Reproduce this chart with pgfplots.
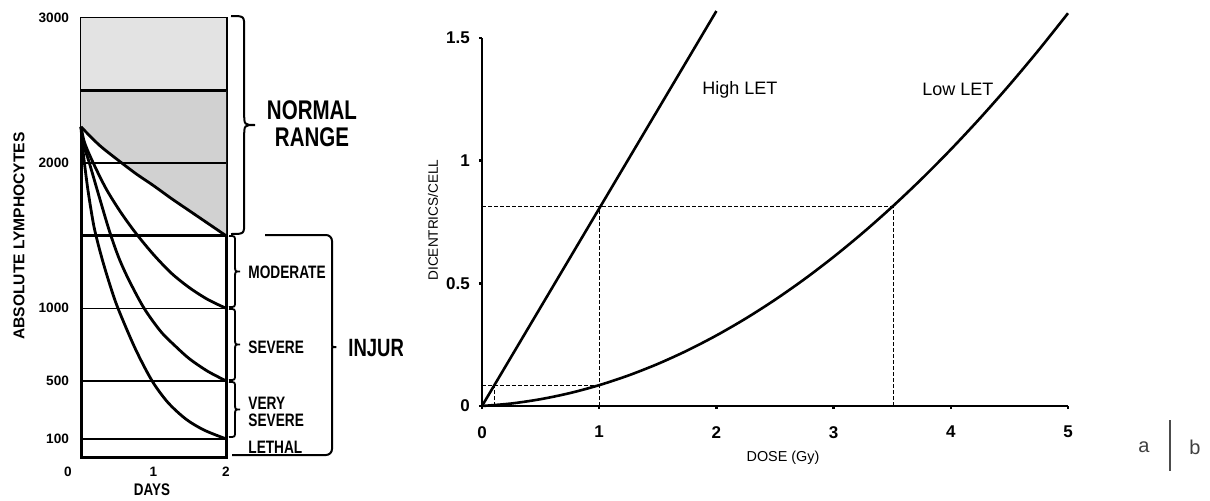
\documentclass[border=0pt]{standalone}
\usepackage{fontspec}
\setmainfont{Liberation Sans}
\usepackage{graphicx}
\usepackage{pgfplots}
\pgfplotsset{compat=1.18}

% narrow lettering for panel a
\newcommand{\cond}[2][0.78]{\scalebox{#1}[1]{#2}}

% right-pointing curly brace, pixel units: x, top, bottom, amplitude
\newcommand{\rbr}[5][0.9pt]{%
  \pgfmathsetmacro\bxm{#2+0.55*#5}%
  \pgfmathsetmacro\bxt{#2+#5}%
  \pgfmathsetmacro\bym{(#3+#4)/2}%
  \pgfmathsetmacro\byta{#3+0.5*#5}%
  \pgfmathsetmacro\bytb{\bym-0.5*#5}%
  \pgfmathsetmacro\byba{\bym+0.5*#5}%
  \pgfmathsetmacro\bybb{#4-0.5*#5}%
  \draw[line width=#1] (#2,#3) .. controls (\bxm,#3) .. (\bxm,\byta) -- (\bxm,\bytb)
    .. controls (\bxm,\bym) .. (\bxt,\bym) .. controls (\bxm,\bym) .. (\bxm,\byba)
    -- (\bxm,\bybb) .. controls (\bxm,#4) .. (#2,#4);
}

\begin{document}
\begin{tikzpicture}
\path[use as bounding box] (0,0) rectangle (605pt,250pt);

% ---------- panel a: lymphocytes ----------
\begin{axis}[
    at={(40.5pt,21.5pt)}, anchor=south west, scale only axis,
    width=72.5pt, height=219.5pt,
    xmin=0, xmax=2, ymin=-25, ymax=3000,
    axis line style={line width=1.5pt},
    xtick={1,2},
    extra x ticks={0},
    extra x tick style={xticklabel style={xshift=-6.5pt}},
    ytick={100,500,1000,2000,3000},
    major tick length=0pt,
    tick label style={font=\fontsize{6.8}{7}\selectfont\bfseries},
    xticklabel style={yshift=-1.5pt},
    yticklabel style={xshift=-2.5pt},
    /pgf/number format/assume math mode=true,
    /pgf/number format/1000 sep={},
    clip=false,
]
    \addplot[draw=none, fill=gray!22] coordinates {(0,2500)(2,2500)(2,3000)(0,3000)} -- cycle;
    \addplot[draw=none, fill=gray!36] coordinates {(0,2500)(0,2250)(0.25,2125)(0.5,2025)(0.75,1930)(1,1845)(1.25,1755)(1.5,1670)(1.75,1585)(2,1500)(2,2500)} -- cycle;

    \addplot[line width=1.6pt] coordinates {(0,2500)(2,2500)};
    \addplot[line width=1.2pt] coordinates {(0,2000)(2,2000)};
    \addplot[line width=1.3pt] coordinates {(0,1500)(2,1500)};
    \addplot[line width=0.7pt] coordinates {(0,1000)(2,1000)};
    \addplot[line width=0.7pt] coordinates {(0,500)(2,500)};
    \addplot[line width=0.9pt] coordinates {(0,100)(2,100)};

    \addplot[line width=1.4pt, smooth] coordinates {(0,2250)(0.25,2125)(0.5,2025)(0.75,1930)(1,1845)(1.25,1755)(1.5,1670)(1.75,1585)(2,1500)};
    \addplot[line width=1.4pt, smooth] coordinates {(0,2250)(0.05,2140)(0.17,2000)(0.35,1820)(0.55,1660)(0.76,1515)(1,1370)(1.25,1240)(1.5,1140)(1.75,1060)(2,1000)};
    \addplot[line width=1.4pt, smooth] coordinates {(0,2250)(0.04,2120)(0.11,2010)(0.25,1770)(0.39,1535)(0.52,1350)(0.66,1195)(0.87,1000)(1.1,840)(1.31,735)(1.5,650)(1.75,565)(2,500)};
    \addplot[line width=1.4pt, smooth] coordinates {(0,2250)(0.02,2120)(0.05,1990)(0.1,1800)(0.18,1560)(0.28,1360)(0.39,1175)(0.51,1000)(0.75,720)(0.98,500)(1.2,350)(1.45,235)(1.7,160)(2,100)};
\end{axis}

% ---------- panel b: dicentrics ----------
\begin{axis}[
    at={(241pt,47pt)}, anchor=south west, scale only axis,
    width=293pt, height=184pt,
    xmin=0, xmax=5, ymin=0, ymax=1.5,
    axis x line=bottom, axis y line=left,
    axis line style={-, line width=1.3pt},
    xtick={0,1,2,3,4,5},
    ytick={0,0.5,1,1.5},
    tick align=outside,
    major tick length=1.6pt,
    tick style={line width=1.2pt, black},
    tick label style={font=\fontsize{8.5}{9}\selectfont\bfseries},
    xticklabel style={yshift=-5pt},
    yticklabel style={xshift=-1pt},
    /pgf/number format/assume math mode=true,
    clip=false,
]
    \addplot[line width=0.5pt, dash pattern=on 2pt off 1pt] coordinates {(0,0.815)(3.51,0.815)};
    \addplot[line width=0.5pt, dash pattern=on 2pt off 1pt] coordinates {(1,0)(1,0.815)};
    \addplot[line width=0.5pt, dash pattern=on 2pt off 1pt] coordinates {(3.51,0)(3.51,0.815)};
    \addplot[line width=0.5pt, dash pattern=on 2pt off 1pt] coordinates {(0,0.085)(1,0.085)};
    \addplot[line width=0.5pt, dash pattern=on 2pt off 1pt] coordinates {(0.105,0)(0.105,0.085)};

    \addplot[line width=1.3pt] coordinates {(0,0)(2,1.61)};
    \addplot[line width=1.3pt, smooth] coordinates {(0,0)(0.25,0.0102)(0.5,0.0278)(0.75,0.0527)(1,0.085)(1.25,0.1246)(1.5,0.1716)(1.75,0.2259)(2,0.2876)(2.25,0.3566)(2.5,0.433)(2.75,0.5167)(3,0.6078)(3.25,0.7062)(3.5,0.812)(3.75,0.9251)(4,1.0456)(4.25,1.1734)(4.5,1.3086)(4.75,1.4511)(5,1.601)};

    \node[font=\fontsize{9}{10}\selectfont] at (axis cs:2.2,1.29) {High LET};
    \node[font=\fontsize{9}{10}\selectfont] at (axis cs:4.06,1.29) {Low LET};
\end{axis}

% ---------- annotations, pixel units (origin top left) ----------
\begin{scope}[yshift=250pt, x=0.5pt, y=-0.5pt]
    \node[rotate=90, font=\fontsize{7.8}{9}\selectfont\bfseries] at (19,236) {ABSOLUTE LYMPHOCYTES};
    \node[font=\fontsize{8.4}{9}\selectfont\bfseries] at (152,490) {\cond[0.8]{DAYS}};

    \rbr[1pt]{231}{16}{234}{24}
    \node[font=\fontsize{13.5}{15}\selectfont\bfseries] at (312,110) {\cond[0.76]{NORMAL}};
    \node[font=\fontsize{13.5}{15}\selectfont\bfseries] at (312,137) {\cond[0.76]{RANGE}};

    \rbr{229}{236}{307}{11}
    \rbr{229}{309}{380}{11}
    \rbr{229}{382}{437}{11}

    \node[anchor=west, font=\fontsize{9}{10}\selectfont\bfseries, inner sep=0pt] at (248,272) {\cond[0.76]{MODERATE}};
    \node[anchor=west, font=\fontsize{9}{10}\selectfont\bfseries, inner sep=0pt] at (248,347) {\cond[0.76]{SEVERE}};
    \node[anchor=west, font=\fontsize{9}{10}\selectfont\bfseries, inner sep=0pt] at (248,403) {\cond[0.76]{VERY}};
    \node[anchor=west, font=\fontsize{9}{10}\selectfont\bfseries, inner sep=0pt] at (248,420) {\cond[0.76]{SEVERE}};
    \node[anchor=west, font=\fontsize{9}{10}\selectfont\bfseries, inner sep=0pt] at (248,447) {\cond[0.76]{LETHAL}};

    \draw[line width=1pt, rounded corners=3pt] (232,455) -- (332,455) -- (332,356)
        .. controls (332,347) .. (340,347) .. controls (332,347) .. (332,338)
        -- (332,235) -- (265,235);
    \begin{scope}
        \clip (340,320) rectangle (402,380);
        \node[anchor=west, font=\fontsize{12.5}{13}\selectfont\bfseries, inner sep=0pt] at (348,348) {\cond[0.74]{INJURY}};
    \end{scope}

    \node[font=\fontsize{10}{11}\selectfont, text=black!75] at (1144,447) {a};
    \node[font=\fontsize{10}{11}\selectfont, text=black!75] at (1195,447) {b};
    \draw[black!70, line width=0.6pt] (1170,420) -- (1170,471);

    \node[rotate=90, font=\fontsize{6.8}{7}\selectfont] at (433,220) {DICENTRICS/CELL};
    \node[font=\fontsize{7.2}{8}\selectfont] at (783,458) {DOSE (Gy)};
\end{scope}
\end{tikzpicture}
\end{document}
